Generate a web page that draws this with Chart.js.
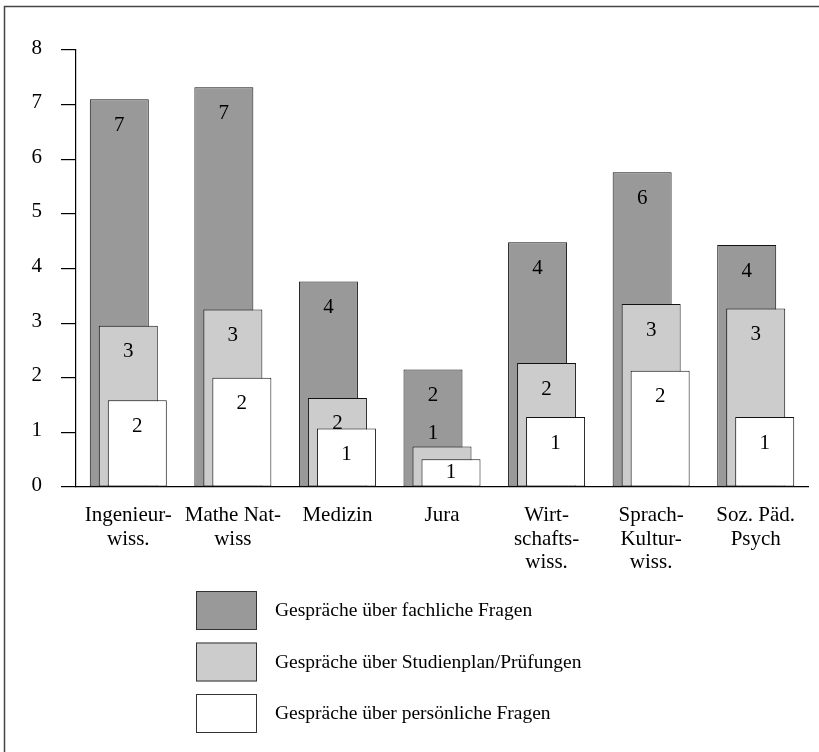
<!DOCTYPE html>
<html>
<head>
<meta charset="utf-8">
<script src="https://cdn.jsdelivr.net/npm/chart.js@4"></script>
<style>
  body { margin: 0; background: #fff; }
  #wrap { width: 819px; height: 752px; }
</style>
</head>
<body>
<div id="wrap"><canvas id="chart"></canvas></div>
<script>
const categories = [
    ["Ingenieur-", "wiss."],
    ["Mathe Nat-", "wiss"],
    "Medizin",
    "Jura",
    ["Wirt-", "schafts-", "wiss."],
    ["Sprach-", "Kultur-", "wiss."],
    ["Soz. Päd.", "Psych"]
];
const fachlich = [7.1, 7.32, 3.76, 2.15, 4.48, 5.76, 4.43];
const studienplan = [2.95, 3.25, 1.63, 0.74, 2.27, 3.35, 3.27];
const persoenlich = [1.59, 2.0, 1.07, 0.51, 1.28, 2.13, 1.28];
const seriesNames = [
    "Gespräche über fachliche Fragen",
    "Gespräche über Studienplan/Prüfungen",
    "Gespräche über persönliche Fragen"
];
const yTicks = [0, 1, 2, 3, 4, 5, 6, 7, 8];

const serif = "'Liberation Serif', 'Times New Roman', serif";
const colors = ["#999999", "#cccccc", "#ffffff"];

// draw bars back-to-front (dark first) and the number inside each bar
const barOrderPlugin = {
    id: "barOrder",
    beforeDatasetsDraw(chart) {
        const ctx = chart.ctx;
        const n = chart.data.datasets.length;
        for (let d = 0; d < n; d++) {
            const meta = chart.getDatasetMeta(d);
            meta.controller.draw();
            ctx.save();
            ctx.font = "21px " + serif;
            ctx.fillStyle = "#000";
            ctx.textAlign = "center";
            ctx.textBaseline = "middle";
            meta.data.forEach((bar, i) => {
                const v = chart.data.datasets[d].data[i];
                const h = bar.base - bar.y;
                let x = bar.x, y = bar.y + 26;
                if (h < 45) {
                    if (d === n - 1) {
                        y = bar.y + h / 2;
                    } else {
                        y = bar.y - 13;
                        x = chart.getDatasetMeta(d - 1).data[i].x;
                    }
                }
                ctx.fillText(String(Math.round(v)), x, y);
            });
            ctx.restore();
        }
        return false;
    },
    afterDraw(chart) {
        const ctx = chart.ctx;
        ctx.save();
        // frame (top and left edge only)
        ctx.strokeStyle = "#444";
        ctx.lineWidth = 1.5;
        ctx.beginPath();
        ctx.moveTo(4.5, 752);
        ctx.lineTo(4.5, 6.5);
        ctx.lineTo(819, 6.5);
        ctx.stroke();

        // legend
        ctx.font = "19.5px " + serif;
        ctx.textBaseline = "middle";
        ctx.textAlign = "left";
        chart.data.datasets.forEach((ds, i) => {
            const top = 591 + i * 51.5;
            ctx.fillStyle = ds.backgroundColor;
            ctx.fillRect(196, top, 61, 39);
            ctx.strokeStyle = "#333";
            ctx.lineWidth = 1;
            ctx.strokeRect(196.5, top + 0.5, 60, 38);
            ctx.fillStyle = "#000";
            ctx.fillText(ds.label, 275, top + 20);
        });
        ctx.restore();
    }
};

const datasets = [fachlich, studienplan, persoenlich].map((vals, i) => ({
    label: seriesNames[i],
    data: vals,
    backgroundColor: colors[i],
    borderColor: "#111",
    borderWidth: 1,
    borderSkipped: false,
    categoryPercentage: 27 / (732 / 7),
    barPercentage: 59 / 9
}));

new Chart(document.getElementById("chart"), {
    type: "bar",
    data: { labels: categories, datasets: datasets },
    options: {
        responsive: true,
        maintainAspectRatio: false,
        animation: false,
        layout: { padding: { left: 0, right: 11, top: 50, bottom: 0 } },
        plugins: {
            legend: { display: false },
            tooltip: { enabled: false }
        },
        scales: {
            x: {
                grid: { display: false, drawTicks: false },
                border: { display: true, color: "#000", width: 1.2 },
                ticks: {
                    color: "#000",
                    padding: 17,
                    maxRotation: 0,
                    autoSkip: false,
                    font: { family: serif, size: 21, lineHeight: 1.12 }
                },
                afterFit(scale) { scale.height = 752 - 487; }
            },
            y: {
                min: 0,
                max: 8,
                afterBuildTicks(scale) { scale.ticks = yTicks.map(v => ({ value: v })); },
                grid: {
                    drawOnChartArea: false,
                    drawTicks: true,
                    tickLength: 15,
                    color: "#000",
                    lineWidth: 1.2
                },
                border: { display: true, color: "#000", width: 1.2 },
                ticks: {
                    color: "#000",
                    padding: 19,
                    labelOffset: -2,
                    font: { family: serif, size: 21 }
                },
                afterFit(scale) { scale.width = 76; }
            }
        }
    },
    plugins: [barOrderPlugin]
});
</script>
</body>
</html>
